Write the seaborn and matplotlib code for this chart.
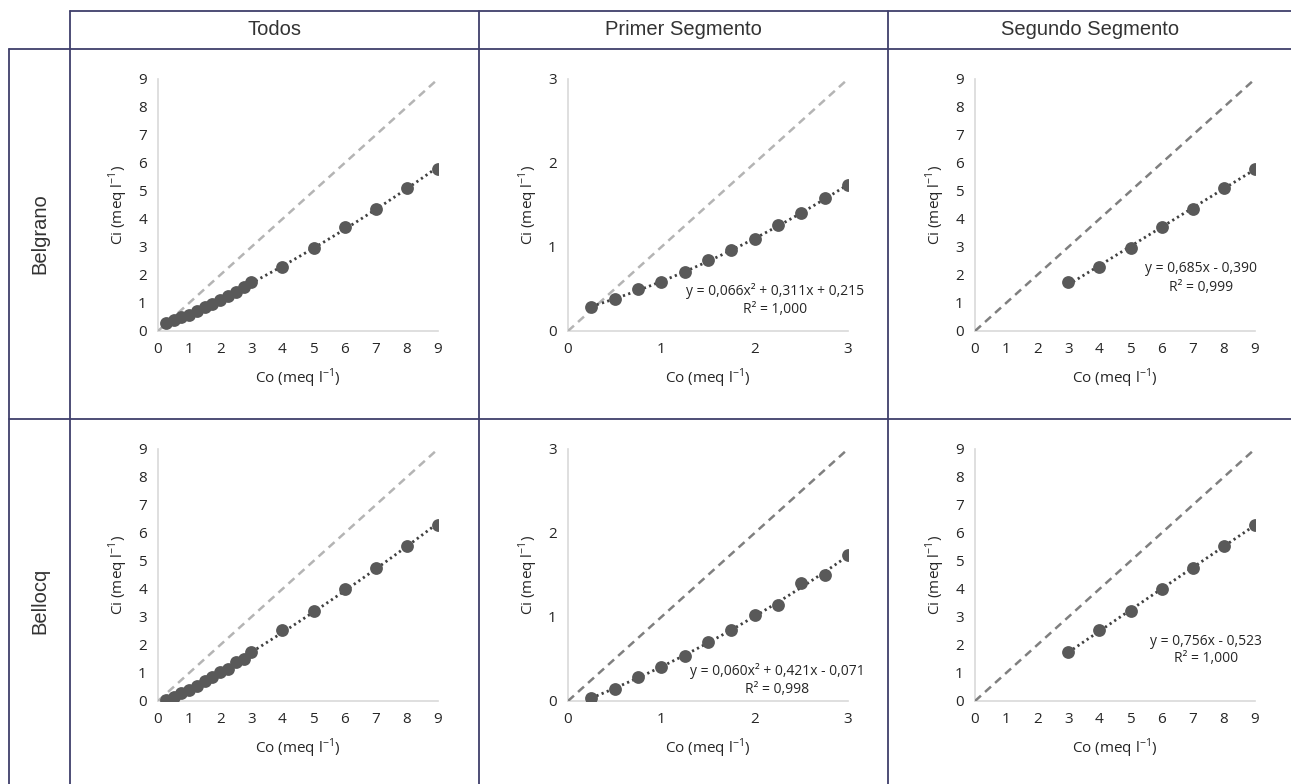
import matplotlib
matplotlib.use("Agg")
import matplotlib.pyplot as plt
from matplotlib.lines import Line2D
import numpy as np
import pandas as pd
import seaborn as sns

# --- data --------------------------------------------------------------
sites = ["Belgrano", "Bellocq"]
columns = ["Todos", "Primer Segmento", "Segundo Segmento"]

co_first = [0.25, 0.5, 0.75, 1.0, 1.25, 1.5, 1.75, 2.0, 2.25, 2.5, 2.75, 3.0]
co_second = [3, 4, 5, 6, 7, 8, 9]

belgrano_first = [0.29, 0.38, 0.50, 0.58, 0.70, 0.84, 0.96, 1.09, 1.26, 1.40, 1.58, 1.74]
belgrano_second = [1.74, 2.28, 2.98, 3.72, 4.34, 5.12, 5.80]
bellocq_first = [0.04, 0.14, 0.29, 0.40, 0.54, 0.70, 0.85, 1.02, 1.14, 1.40, 1.50, 1.74]
bellocq_second = [1.74, 2.54, 3.20, 4.00, 4.76, 5.53, 6.29]

eq_belgrano_first = ["y = 0,066x² + 0,311x + 0,215", "R² = 1,000"]
eq_belgrano_second = ["y = 0,685x - 0,390", "R² = 0,999"]
eq_bellocq_first = ["y = 0,060x² + 0,421x - 0,071", "R² = 0,998"]
eq_bellocq_second = ["y = 0,756x - 0,523", "R² = 1,000"]

W, H = 1291, 784
sns.set_theme(style="white")
plt.rcParams["font.family"] = ["Open Sans", "DejaVu Sans"]

fig = plt.figure(figsize=(W / 100, H / 100), dpi=100)
fig.patch.set_facecolor("white")

GRID = "#3f3f6b"


def hline(y, x0, x1):
    fig.add_artist(Line2D([x0 / W, x1 / W], [1 - y / H, 1 - y / H],
                          color=GRID, lw=1.3, transform=fig.transFigure))


def vline(x, y0, y1):
    fig.add_artist(Line2D([x / W, x / W], [1 - y0 / H, 1 - y1 / H],
                          color=GRID, lw=1.3, transform=fig.transFigure))


# table grid
hline(10.5, 70, W)
hline(49, 8.5, W)
hline(419, 8.5, W)
vline(8.5, 49, H)
for x in [70, 479, 888]:
    vline(x, 10.5, H)

header_font = dict(family=["Liberation Sans", "DejaVu Sans"], fontweight="normal",
                   fontsize=14.5, color="#333333", ha="center", va="center")
for name, cx in zip(columns, [274.5, 683.5, 1090]):
    fig.text(cx / W, 1 - 29.5 / H, name, **header_font)
for name, cy in zip(sites, [234, 601]):
    fig.text(40 / W, 1 - cy / H, name, rotation=90, **header_font)

series = {
    "Belgrano": (belgrano_first, belgrano_second, eq_belgrano_first, eq_belgrano_second),
    "Bellocq": (bellocq_first, bellocq_second, eq_bellocq_first, eq_bellocq_second),
}

# pixel layout of the small charts
ax_left = [158, 568, 975]
ax_bottom = [331, 701]
ax_w, ax_h = 280, 252

POINT = "#595959"
TREND = "#404040"
LIGHT_DASH = "#b4b4b4"
DARK_DASH = "#7f7f7f"
TEXT = "#262626"

for r, site in enumerate(sites):
    first, second, eq1, eq2 = series[site]
    all_df = pd.DataFrame({"Co": co_first + co_second[1:],
                           "Ci": first + second[1:]})
    first_df = pd.DataFrame({"Co": co_first, "Ci": first})
    second_df = pd.DataFrame({"Co": co_second, "Ci": second})

    panels = [
        (all_df, 2, 9, LIGHT_DASH, None, None),
        (first_df, 2, 3, LIGHT_DASH if r == 0 else DARK_DASH, eq1,
         (2.22, 0.48, 0.25) if r == 0 else (2.24, 0.36, 0.14)),
        (second_df, 1, 9, DARK_DASH, eq2,
         (7.26, 2.25, 1.57) if r == 0 else (7.42, 2.14, 1.5)),
    ]

    for c, (df, order, top, dash_col, eq, eq_pos) in enumerate(panels):
        ax = fig.add_axes([ax_left[c] / W, 1 - ax_bottom[r] / H, ax_w / W, ax_h / H])
        ax.plot([0, top], [0, top], color=dash_col, lw=1.8,
                ls=(0, (3.2, 2.2)), zorder=1)
        sns.regplot(data=df, x="Co", y="Ci", order=order, ci=None, scatter=False,
                    ax=ax, line_kws=dict(color=TREND, lw=2.0, ls=(0, (0.8, 1.2))))
        sns.scatterplot(data=df, x="Co", y="Ci", ax=ax, color=POINT, s=85,
                        edgecolor=POINT, linewidth=0, zorder=3)
        ax.set_xlim(0, top)
        ax.set_ylim(0, top)
        ax.set_xticks(range(0, top + 1))
        ax.set_yticks(range(0, top + 1))
        for side in ["top", "right"]:
            ax.spines[side].set_visible(False)
        for side in ["left", "bottom"]:
            ax.spines[side].set_color("#d9d9d9")
            ax.spines[side].set_linewidth(1.2)
        ax.tick_params(length=0, labelsize=11, colors=TEXT, pad=8)
        ax.set_xlabel("Co (meq l$^{\\mathregular{-1}}$)", fontsize=11, color=TEXT,
                      labelpad=7)
        ax.set_ylabel("Ci (meq l$^{\\mathregular{-1}}$)", fontsize=11, color=TEXT,
                      labelpad=6)
        ax.set_facecolor("none")
        for sp in ax.spines.values():
            sp.set_zorder(0)
        if eq is not None:
            ex, ey1, ey2 = eq_pos
            ax.text(ex, ey1, eq[0], ha="center", va="center", fontsize=10,
                    color=TEXT)
            ax.text(ex, ey2, eq[1], ha="center", va="center", fontsize=10,
                    color=TEXT)

fig.savefig("out.png", dpi=100, facecolor="white")
